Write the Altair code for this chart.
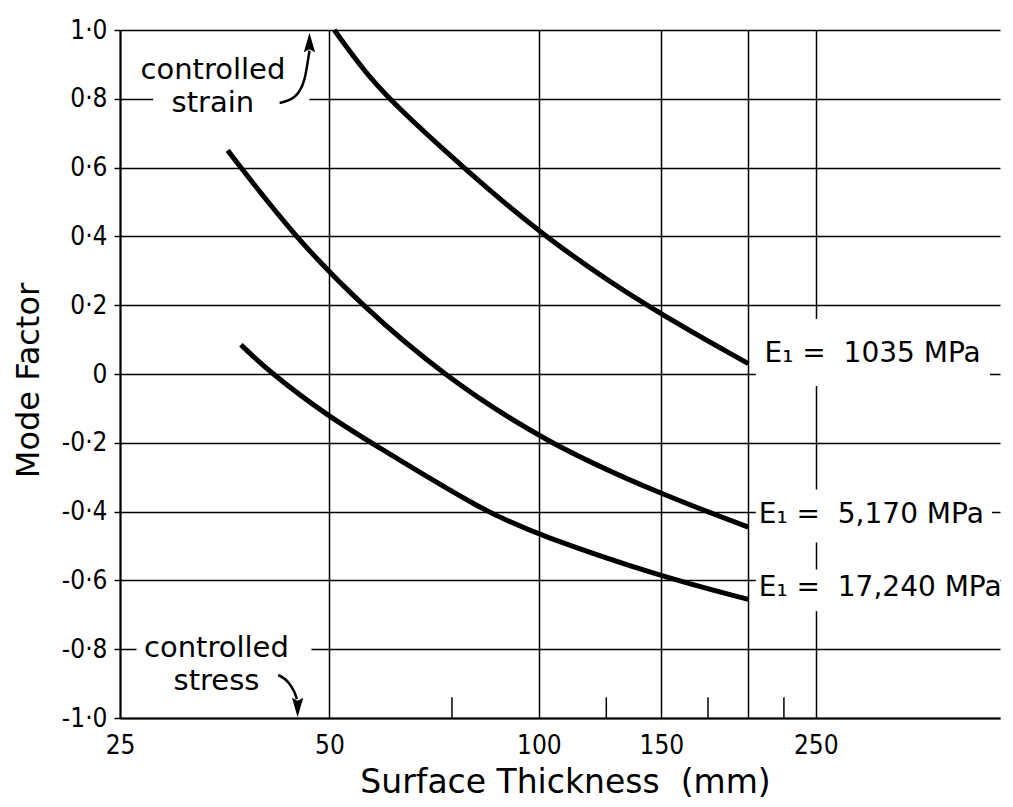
import altair as alt
import pandas as pd

# ---- data ----
e1035_x = [50.8, 55.4, 60.7, 77.8, 101.5, 141.4, 200]
e1035_y = [1.0, 0.895, 0.80, 0.60, 0.40, 0.20, 0.03]
e5170_x = [35.7, 44.5, 55.6, 72.4, 102.3, 150, 200]
e5170_y = [0.65, 0.40, 0.20, 0.0, -0.20, -0.35, -0.445]
e17240_x = [37.3, 41.3, 50, 57.4, 83.4, 100, 150, 200]
e17240_y = [0.085, 0.0, -0.125, -0.2, -0.4, -0.468, -0.59, -0.655]

x_ticks = [25, 50, 100, 150, 200, 250]
x_minor = [75, 125, 175, 225]
y_ticks = [-1.0, -0.8, -0.6, -0.4, -0.2, 0.0, 0.2, 0.4, 0.6, 0.8, 1.0]

curve_labels = ["E₁ =\u00a0 1035 MPa", "E₁ =\u00a0 5,170 MPa", "E₁ =\u00a0 17,240 MPa"]
curve_label_x = [211, 207, 207]
curve_label_y = [0.058, -0.409, -0.623]

note_text = ["controlled\nstrain", "controlled\nstress"]
note_x = [34.0, 34.4]
note_y = [0.884, -0.797]

# arrows (curved leader lines) and their heads
strain_arrow_x = [42.4, 44.5, 46.0, 46.8]
strain_arrow_y = [0.788, 0.805, 0.855, 0.94]
stress_arrow_x = [42.2, 43.7, 44.5, 44.9]
stress_arrow_y = [-0.875, -0.898, -0.924, -0.945]
head_x = [46.8, 45.0]
head_y = [0.962, -0.968]
head_dir = ["up", "down"]

# white masks where the drawing interrupts the grid behind text
mask_x1 = [27.9, 26.4, 205, 205, 205]
mask_x2 = [46.8, 47.1, 445, 448, 460]
mask_y1 = [0.775, -0.775, 0.16, -0.336, -0.568]
mask_y2 = [0.825, -0.825, -0.035, -0.49, -0.69]

# ---- tables ----
rows = []
for name, xs, ys in [("1035", e1035_x, e1035_y), ("5170", e5170_x, e5170_y), ("17240", e17240_x, e17240_y)]:
    for i, (a, b) in enumerate(zip(xs, ys)):
        rows.append({"x": a, "y": b, "series": name, "order": i})
curves = pd.DataFrame(rows)

arrow_rows = []
for name, xs, ys in [("strain", strain_arrow_x, strain_arrow_y), ("stress", stress_arrow_x, stress_arrow_y)]:
    for i, (a, b) in enumerate(zip(xs, ys)):
        arrow_rows.append({"x": a, "y": b, "series": name, "order": i})
arrows = pd.DataFrame(arrow_rows)

heads = pd.DataFrame({"x": head_x, "y": head_y, "dir": head_dir})
labels_df = pd.DataFrame({"x": curve_label_x, "y": curve_label_y, "t": curve_labels})
notes_df = pd.DataFrame({"x": note_x, "y": note_y, "t": note_text})
masks_df = pd.DataFrame({"x": mask_x1, "x2": mask_x2, "y": mask_y1, "y2": mask_y2})
minor_df = pd.DataFrame({"x": x_minor, "y": [-1.0] * len(x_minor), "y2": [-0.94] * len(x_minor)})

NARROW = "Liberation Sans Narrow, DejaVu Sans Condensed, sans-serif"
SANS = "DejaVu Sans"

xscale = alt.Scale(type="log", domain=[25, 460], nice=False, zero=False)
yscale = alt.Scale(domain=[-1.0, 1.0], nice=False, zero=False)

xaxis = alt.Axis(
    values=x_ticks,
    labelExpr="datum.value == 200 ? '' : format(datum.value, 'd')",
    grid=True, gridColor="black", gridWidth=1.5, gridOpacity=1,
    domain=True, domainColor="black", domainWidth=2,
    ticks=False, tickSize=0,
    labelFont=NARROW, labelFontSize=26, labelColor="black", labelPadding=14,
    labelFlush=False, labelOverlap=False,
    title="Surface Thickness\u00a0 (mm)", titleFont=SANS, titleFontSize=33,
    titleFontWeight="normal", titleColor="black",
    titleX=445, titleY=74, titleAlign="center", titleBaseline="alphabetic",
)
yaxis = alt.Axis(
    values=y_ticks,
    labelExpr="datum.value == 0 ? '0' : (datum.value < 0 ? '-' : '') + replace(format(abs(datum.value), '.1f'), '.', '·')",
    grid=True, gridColor="black", gridWidth=1.5, gridOpacity=1,
    domain=True, domainColor="black", domainWidth=2,
    ticks=True, tickSize=6, tickWidth=1.5, tickColor="black",
    labelFont=NARROW, labelFontSize=26, labelColor="black", labelPadding=7,
    labelFlush=False, labelOverlap=False,
    title="Mode Factor", titleFont=SANS, titleFontSize=32,
    titleFontWeight="normal", titleColor="black",
    titleX=-92, titleY=350, titleAngle=270, titleAlign="center", titleBaseline="middle",
)

X = alt.X("x:Q", scale=xscale, axis=xaxis)
Y = alt.Y("y:Q", scale=yscale, axis=yaxis)

masks = alt.Chart(masks_df).mark_rect(color="white", opacity=1).encode(
    x=X, x2="x2:Q", y=Y, y2="y2:Q"
)
minor = alt.Chart(minor_df).mark_rule(color="black", strokeWidth=1.5).encode(
    x=X, y=Y, y2="y2:Q"
)
lines = alt.Chart(curves).mark_line(
    interpolate="basis", strokeWidth=5, color="black", strokeCap="butt"
).encode(x=X, y=Y, detail="series:N", order="order:Q")
arrow_lines = alt.Chart(arrows).mark_line(
    interpolate="monotone", strokeWidth=2.5, color="black"
).encode(x=X, y=Y, detail="series:N", order="order:Q")
head_up = alt.Chart(heads).transform_filter("datum.dir == 'up'").mark_point(
    shape="M0,-1 L0.55,0.9 L0,0.6 L-0.55,0.9 Z", filled=True, color="black", size=420, opacity=1
).encode(x=X, y=Y)
head_down = alt.Chart(heads).transform_filter("datum.dir == 'down'").mark_point(
    shape="M0,1 L0.55,-0.9 L0,-0.6 L-0.55,-0.9 Z", filled=True, color="black", size=420, opacity=1
).encode(x=X, y=Y)
curve_text = alt.Chart(labels_df).mark_text(
    font=SANS, fontSize=28, align="left", baseline="middle", color="black"
).encode(x=X, y=Y, text="t:N")
note_text_l = alt.Chart(notes_df).mark_text(
    font=SANS, fontSize=29, align="center", baseline="middle", color="black",
    lineBreak="\n", lineHeight=33
).encode(x=X, y=Y, text="t:N")

chart = alt.layer(
    masks, minor, lines, arrow_lines, head_up, head_down, curve_text, note_text_l
).properties(
    width=880,
    height=688,
    autosize=alt.AutoSizeParams(type="none"),
    padding={"left": 112, "top": 22, "right": 5, "bottom": 86},
    background="white",
).configure_view(stroke=None)

chart.save("out.html", embed_options={"renderer": "svg", "actions": False})
